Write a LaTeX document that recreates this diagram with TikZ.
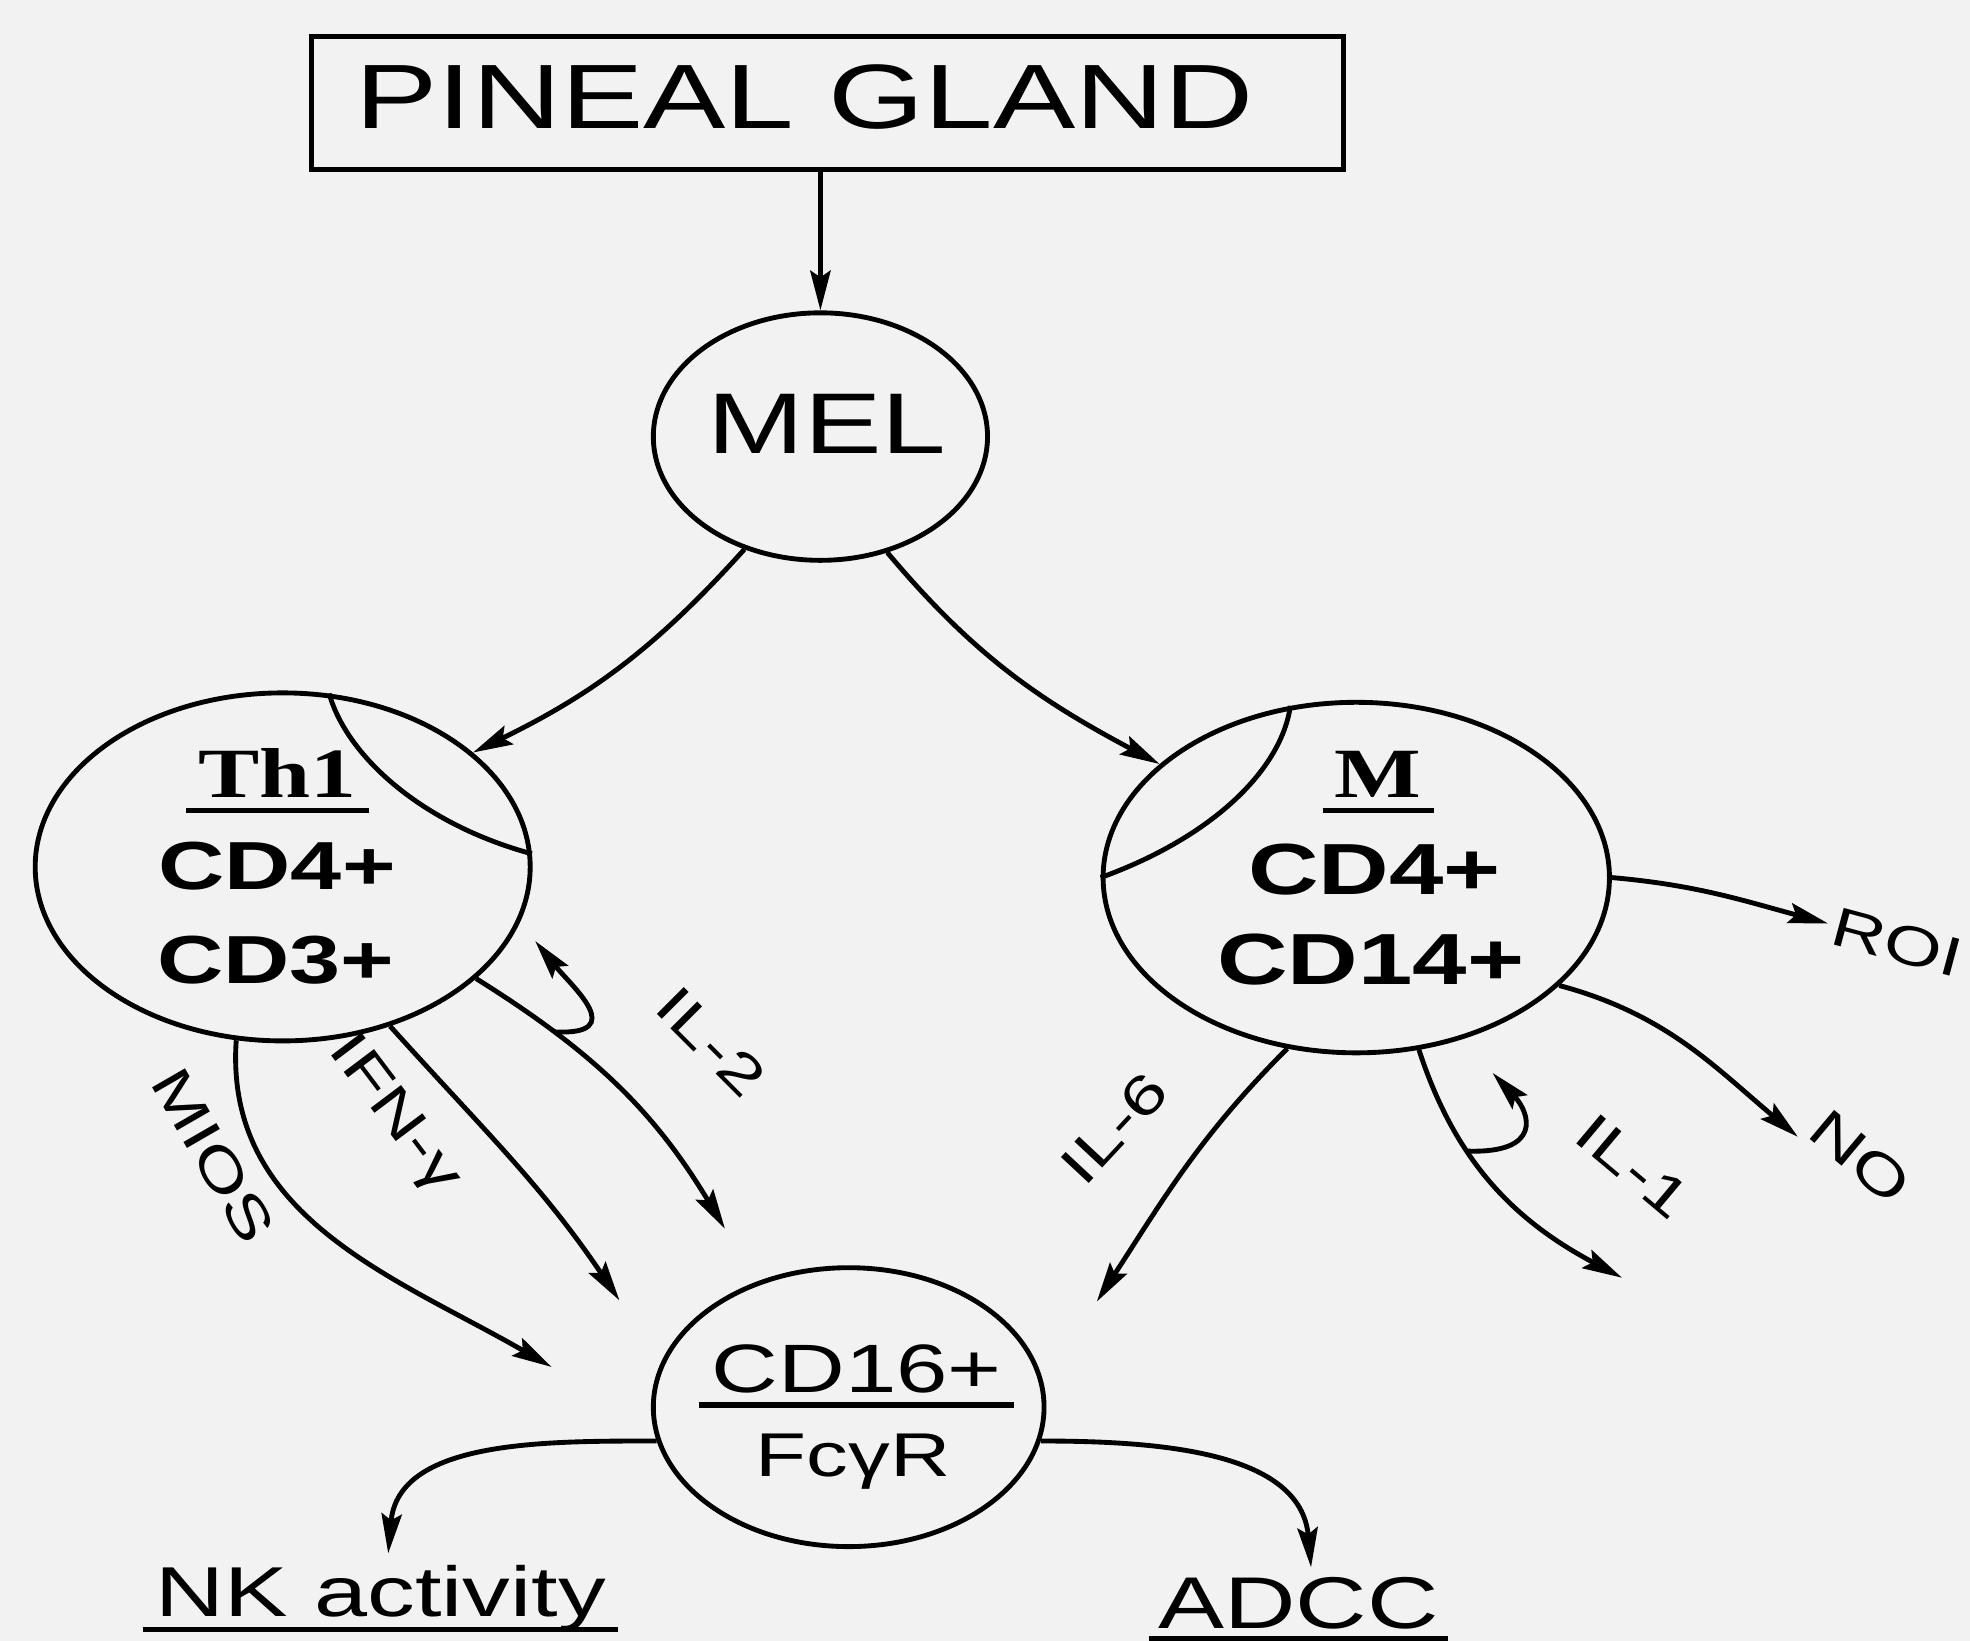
\documentclass[tikz,border=0pt]{standalone}
\usepackage{fontspec}
\setmainfont[FakeStretch=1.35]{Liberation Sans}
\newfontfamily\thfont[FakeStretch=1.3]{Liberation Serif}
\usetikzlibrary{arrows.meta, shapes.geometric}
\definecolor{paper}{gray}{0.95}
\tikzset{
  flow/.style={line width=1.1pt, -{Stealth[length=9pt, width=4.6pt, inset=1.5pt]}},
  cell/.style={draw, line width=1.1pt, ellipse, inner sep=0pt},
  lbl/.style={anchor=base, inner sep=1pt},
  ullbl/.style={anchor=base, inner sep=2.6pt},
  cyto/.style={inner sep=1pt, font=\fontsize{12.5}{14}\selectfont},
}
\newcommand{\fsz}[1]{\fontsize{#1}{#1}\selectfont}
\newcommand{\ulnode}[2][1.1pt]{\draw[line width=#1] (#2.south west) -- (#2.south east);}

\begin{document}
\begin{tikzpicture}
\fill[paper] (0,0) rectangle (15.68,-13.06);
\useasboundingbox (0,0) rectangle (15.68,-13.06);
% gland and hormone
\node[draw, line width=1.1pt, minimum width=8.21cm, minimum height=1.06cm] (gland) at (6.585,-0.82) {};
\node[lbl, font=\fsz{20.7}] (glandtxt) at (6.405,-1.02) {PINEAL GLAND};
\node[cell, minimum width=2.66cm, minimum height=1.97cm] (mel) at (6.53,-3.475) {};
\node[lbl, font=\fsz{19.5}] (meltxt) at (6.58,-3.61) {MEL};
\draw[flow] (mel.north |- gland.south) -- (mel.north);

% Th1 cell
\node[cell, minimum width=3.94cm, minimum height=2.77cm] (th1) at (2.25,-6.90) {};
\draw[line width=1.1pt] (th1.75) .. controls (2.76,-6.02) and (3.36,-6.56) .. (th1.3);
\node[ullbl, font=\thfont\bfseries\fsz{16}] (th1name) at (2.21,-6.35) {Th1};
\ulnode{th1name}
\node[lbl, font=\bfseries\fsz{15.4}] (th1cd4) at (2.205,-7.08) {CD4+};
\node[lbl, font=\bfseries\fsz{15.4}] (th1cd3) at (2.195,-7.83) {CD3+};

% M cell
\node[cell, minimum width=4.03cm, minimum height=2.79cm] (m) at (10.795,-6.985) {};
\draw[line width=1.1pt] (m.111) .. controls (10.20,-6.12) and (9.66,-6.66) .. (m.180);
\node[ullbl, font=\thfont\bfseries\fsz{16}] (mname) at (10.97,-6.35) {M};
\ulnode{mname}
\node[lbl, font=\bfseries\fsz{16.4}] (mcd4) at (10.94,-7.12) {CD4+};
\node[lbl, font=\bfseries\fsz{16.4}] (mcd14) at (10.91,-7.84) {CD14+};

% target cell
\node[cell, minimum width=3.11cm, minimum height=2.22cm] (cd16) at (6.755,-11.20) {};
\node[ullbl, font=\fsz{15.5}] (cd16top) at (6.82,-11.08) {CD16+};
\ulnode[1.5pt]{cd16top}
\node[lbl, font=\fsz{14}] (cd16bot) at (6.79,-11.75) {FcγR};

% outcomes
\node[ullbl, font=\fsz{16}, text depth=0pt] (nk) at (3.03,-12.87) {NK activity};
\ulnode{nk}
\node[ullbl, font=\fsz{16.6}, inner sep=2pt] (adcc) at (10.335,-12.96) {ADCC};
\ulnode{adcc}

\draw[flow] (mel.236) to[out=228, in=26] (th1.31);
\draw[flow] (mel.300) to[out=-50, in=152] (m.150);

% Th1 products
\coordinate (tipmios) at (4.39,-10.88);
\coordinate (tipifn) at (4.93,-10.35);
\coordinate (tipil2) at (5.77,-9.78);
\coordinate (backil2) at (4.26,-7.49);
\draw[flow] (th1.255) to[out=-94, in=150] (tipmios);
\draw[flow] (th1.304) to[out=-48, in=124] (tipifn);
\draw[flow] (th1.330) to[out=-32, in=121] coordinate[pos=0.25] (hookil2) (tipil2);
\draw[flow] (hookil2) .. controls +(0.6,-0.03) and +(0.29,-0.36) .. (backil2);
\node[cyto, rotate=-60] (mios) at (1.70,-9.20) {MIOS};
\node[cyto, rotate=-53] (ifn) at (3.13,-8.88) {IFN-γ};
\node[cyto, rotate=-45] (il2) at (5.66,-8.29) {IL-2};

% M products
\coordinate (tipil6) at (8.73,-10.36);
\coordinate (tipil1) at (12.91,-10.17);
\coordinate (backil1) at (11.88,-8.54);
\draw[flow] (m.248) to[out=225, in=57] (tipil6);
\draw[flow] (m.290) to[out=-72, in=152] coordinate[pos=0.35] (hookil1) (tipil1);
\draw[flow] (hookil1) .. controls +(0.6,-0.02) and +(0.3,-0.32) .. (backil1);
\node[cyto, rotate=47] (il6) at (8.87,-8.98) {IL-6};
\node[cyto, rotate=-40] (il1) at (13.00,-9.28) {IL-1};
\node[cyto, rotate=-40] (no) at (14.81,-9.21) {NO};
\node[cyto, rotate=-15, anchor=west] (roi) at (14.55,-7.35) {ROI};
\draw[flow] (m.332) to[out=-15, in=140] (no.south west);
\draw[flow] (m.0) to[out=-5, in=165] (roi.west);

% CD16 effects
\draw[flow] (cd16.190) to[out=180, in=85] ([xshift=0.6mm]nk.north);
\draw[flow] (cd16.-10) to[out=0, in=95] ([xshift=1mm]adcc.north);
\end{tikzpicture}
\end{document}
